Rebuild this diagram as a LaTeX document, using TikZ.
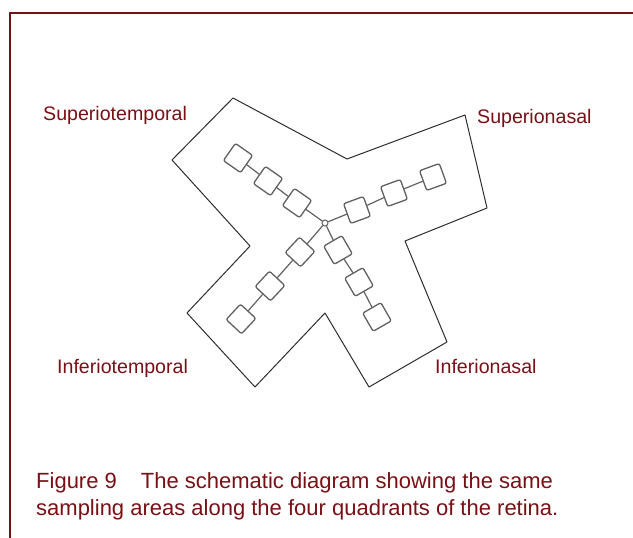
\documentclass[tikz,border=0pt]{standalone}
\usepackage{fontspec}
\setmainfont{Liberation Sans}
\definecolor{darkRed}{RGB}{120,16,22}
\definecolor{outlineGrey}{RGB}{45,45,45}

\begin{document}
\begin{tikzpicture} [x = 1pt, y = -1pt,
	cell/.style = {draw = black!62, line width = 1.3pt, fill = white, minimum size = 21pt, inner sep = 0pt, rounded corners = 2pt},
	link/.style = {draw = black!62, line width = 1.2pt},
	quadrant/.style = {font = \fontsize{19.6}{23}\selectfont, text = darkRed, anchor = base west, inner sep = 0pt},
	caption/.style = {font = \fontsize{22}{26}\selectfont, text = darkRed, anchor = base west, inner sep = 0pt}]

	\useasboundingbox (0, 0) rectangle (633, 538);

		% Define coordinates.

	%frame
	\coordinate (frameTop) at (634, 13);
	\coordinate (frameCorner) at (10, 13);
	\coordinate (frameBottom) at (10, 539);

	%outline of the sampled region
	\coordinate (topTemp) at (233, 98);
	\coordinate (notchTop) at (347, 159);
	\coordinate (topNasal) at (465, 115);
	\coordinate (rightNasal) at (487, 208);
	\coordinate (notchRight) at (405, 241);
	\coordinate (rightInf) at (447, 342);
	\coordinate (bottomNasal) at (369, 387);
	\coordinate (notchBottom) at (325, 313);
	\coordinate (bottomTemp) at (255, 387);
	\coordinate (leftInf) at (187, 313);
	\coordinate (notchLeft) at (250, 246);
	\coordinate (leftTemp) at (172, 160);

% Draw frame.

	\draw[darkRed, line width = 1.7pt] (frameTop) -- (frameCorner) -- (frameBottom);

% Draw outline.

	\draw[outlineGrey, line width = 1pt, line join = round] (topTemp) -- (notchTop) -- (topNasal) -- (rightNasal) -- (notchRight) -- (rightInf) -- (bottomNasal) -- (notchBottom) -- (bottomTemp) -- (leftInf) -- (notchLeft) -- (leftTemp) -- cycle;

% Draw sampling areas.

	\node[circle, draw = black!62, line width = 1pt, fill = white, inner sep = 0pt, minimum size = 6pt] (hub) at (325, 223) {};

	%superiotemporal
	\node[cell, rotate = 55] (st1) at (297, 203) {};
	\node[cell, rotate = 55] (st2) at (268, 181) {};
	\node[cell, rotate = 55] (st3) at (238, 158) {};

	%superionasal
	\node[cell, rotate = 20] (sn1) at (357, 210) {};
	\node[cell, rotate = 20] (sn2) at (394, 193) {};
	\node[cell, rotate = 20] (sn3) at (433, 177) {};

	%inferiotemporal
	\node[cell, rotate = 47] (it1) at (300, 252) {};
	\node[cell, rotate = 47] (it2) at (270, 286) {};
	\node[cell, rotate = 47] (it3) at (241, 319) {};

	%inferionasal
	\node[cell, rotate = 30] (in1) at (338, 250) {};
	\node[cell, rotate = 30] (in2) at (359, 282) {};
	\node[cell, rotate = 30] (in3) at (377, 317) {};

	\draw[link] (hub) -- (st1) -- (st2) -- (st3);
	\draw[link] (hub) -- (sn1) -- (sn2) -- (sn3);
	\draw[link] (hub) -- (it1) -- (it2) -- (it3);
	\draw[link] (hub) -- (in1) -- (in2) -- (in3);

% Quadrant labels.

	\node[quadrant] (supTemp) at (43, 120) {Superiotemporal};
	\node[quadrant] (supNasal) at (477, 123) {Superionasal};
	\node[quadrant] (infTemp) at (57, 373) {Inferiotemporal};
	\node[quadrant] (infNasal) at (435, 373) {Inferionasal};

% Caption.

	\node[caption] (capLine1) at (36, 488) {Figure 9\hspace{24pt}The schematic diagram showing the same};
	\node[caption] (capLine2) at (36, 515) {sampling areas along the four quadrants of the retina.};

\end{tikzpicture}
\end{document}
